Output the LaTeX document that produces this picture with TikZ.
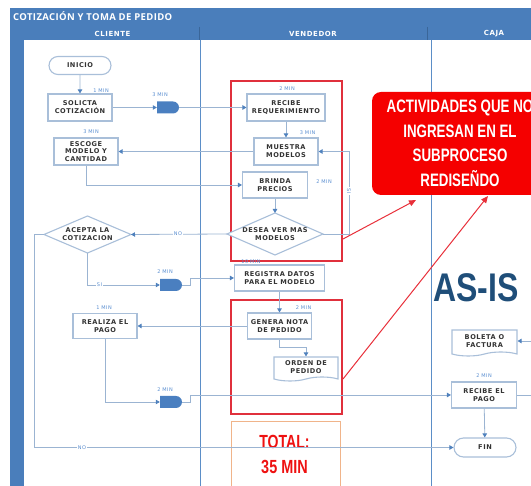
\documentclass[tikz,border=0pt]{standalone}
\usepackage{fontspec}
\setmainfont{DejaVu Sans}
\newfontfamily\boxf[LetterSpace=8]{DejaVu Sans}
\newfontfamily\lanef[LetterSpace=8]{DejaVu Sans}
\newfontfamily\arialf{Liberation Sans}
\newfontfamily\hdrf[LetterSpace=4]{Open Sans}
\usetikzlibrary{shapes.misc,shapes.symbols,arrows.meta,calc}
\definecolor{hdrblue}{HTML}{4A7EBB}
\definecolor{hdrdark}{HTML}{3A6699}
\definecolor{lanel}{HTML}{5B8EC7}
\definecolor{connc}{HTML}{9BB4D2}
\definecolor{arrowc}{HTML}{4F81BD}
\definecolor{boxb}{HTML}{A9BFD9}
\definecolor{txt}{HTML}{333333}
\definecolor{minc}{HTML}{5A8ED0}
\definecolor{gatec}{HTML}{4A7FC0}
\definecolor{redf}{HTML}{E0303C}
\definecolor{redl}{HTML}{E8303A}
\definecolor{calloutc}{HTML}{F50000}
\definecolor{asisc}{HTML}{1F4E79}
\definecolor{totb}{HTML}{F0B48A}
\definecolor{totc}{HTML}{EE1111}
\begin{document}
\begin{tikzpicture}[x=1pt,y=-1pt,
  proc/.style={rectangle, draw=boxb, line width=1.1pt, fill=white, minimum width=64, minimum height=27, inner sep=1pt, align=center, text=txt, font=\boxf\bfseries\fontsize{6.6}{7.8}\selectfont},
  term/.style={proc, rounded rectangle, minimum height=18},
  gate/.style={rounded rectangle, rounded rectangle left arc=none, fill=gatec, minimum width=22, minimum height=12, inner sep=0},
  docu/.style={proc, tape, tape bend top=none, tape bend height=4pt},
  dtext/.style={align=center, text=txt, font=\boxf\bfseries\fontsize{6.6}{7.8}\selectfont, inner sep=0},
  dshape/.style={draw=boxb, line width=1.1pt, fill=white},
  conn/.style={draw=connc, line width=0.8pt},
  arr/.style={conn, -{Triangle[length=4pt,width=4.5pt,fill=arrowc,color=arrowc]}},
  minl/.style={text=minc, font=\boxf\fontsize{5}{6}\selectfont, inner sep=0},
  ynl/.style={minl, fill=white, inner sep=1pt},
  redframe/.style={draw=redf, line width=1.2pt},
  redarr/.style={draw=redl, line width=1pt, -{Triangle[length=7pt,width=6pt]}},
  lanehdr/.style={text=white, font=\lanef\bfseries\fontsize{7}{8}\selectfont, inner sep=0},
]
\useasboundingbox (0,0) rectangle (531,486);
\clip (0,0) rectangle (531,486);
% header and lanes
\fill[hdrblue] (10,8) rectangle (531,40);
\fill[hdrblue] (10,8) rectangle (24,486);
\draw[hdrdark, line width=0.6pt] (199,27) -- (199,40);
\draw[hdrdark, line width=0.6pt] (427,27) -- (427,40);
\draw[lanel, line width=0.9pt] (200,40) -- (200,486);
\draw[lanel, line width=0.9pt] (431,40) -- (431,486);
\node[anchor=west, text=white, font=\hdrf\bfseries\fontsize{9.5}{10}\selectfont, inner sep=0] (title) at (13,16.5) {COTIZACIÓN Y TOMA DE PEDIDO};
\node[lanehdr] (hcli) at (112.5,33.5) {CLIENTE};
\node[lanehdr] (hven) at (313,33.5) {VENDEDOR};
\node[lanehdr] (hcaj) at (494,33.5) {CAJA};

% red frames
\node[redframe, minimum width=111, minimum height=180, inner sep=0] (rf1) at (286.5,171) {};
\node[redframe, minimum width=111, minimum height=114, inner sep=0] (rf2) at (286.5,357) {};
\node[draw=totb, line width=1pt, minimum width=109, minimum height=80, inner sep=0] (tot) at (285.5,462) {};
\node[text=totc, font=\arialf\bfseries\fontsize{19}{25}\selectfont, align=center, inner sep=0] (totxt) at (284.5,454.5) {\scalebox{0.74}[1]{TOTAL:}\\\scalebox{0.76}[1]{35 MIN}};

% diamonds
\coordinate (d1n) at (275,213); \coordinate (d1s) at (275,255);
\coordinate (d1w) at (227,234); \coordinate (d1e) at (323,234);
\filldraw[dshape] (d1n) -- (d1e) -- (d1s) -- (d1w) -- cycle;
\node[dtext] (d1) at (275,234) {DESEA VER MAS\\MODELOS};
\coordinate (d2n) at (87.5,216); \coordinate (d2s) at (87.5,253);
\coordinate (d2w) at (44,234.5); \coordinate (d2e) at (131,234.5);
\filldraw[dshape] (d2n) -- (d2e) -- (d2s) -- (d2w) -- cycle;
\node[dtext] (d2) at (87.5,234.5) {ACEPTA LA\\COTIZACION};

% nodes
\node[term] (inicio) at (80,65.5) {INICIO};
\node[proc] (solicita) at (80,107.5) {SOLICTA\\COTIZACIÓN};
\node[gate] (g1) at (168,107.5) {};
\node[proc, minimum width=78] (recibe) at (286,107.5) {RECIBE\\REQUERIMIENTO};
\node[proc] (muestra) at (286,151.5) {MUESTRA\\MODELOS};
\node[proc] (escoge) at (86,151.5) {ESCOGE\\MODELO Y\\CANTIDAD};
\node[proc, minimum width=65, minimum height=26] (brinda) at (275,185) {BRINDA\\PRECIOS};
\node[gate] (g2) at (171,285) {};
\node[proc, minimum width=90, minimum height=26] (registra) at (279.5,278) {REGISTRA DATOS\\PARA EL MODELO};
\node[proc, minimum height=26] (genera) at (279.5,326) {GENERA NOTA\\DE PEDIDO};
\node[proc, minimum height=25] (realiza) at (105,326) {REALIZA EL\\PAGO};
\node[docu, minimum height=24] (orden) at (306,367) {ORDEN DE\\PEDIDO};
\node[gate] (g3) at (171,402) {};
\node[docu, minimum width=65, minimum height=26] (boleta) at (484.5,341) {BOLETA O\\FACTURA};
\node[proc, minimum width=65, minimum height=26] (rpago) at (484,395) {RECIBE EL\\PAGO};
\node[term, minimum height=19] (fin) at (485,447.5) {FIN};

% time labels
\node[minl] (t1) at (101,91) {1 MIN};
\node[minl] (t2) at (160,94.5) {3 MIN};
\node[minl] (t3) at (287,89) {2 MIN};
\node[minl] (t4) at (307.5,133) {3 MIN};
\node[minl] (t5) at (91,132) {3 MIN};
\node[minl] (t6) at (324,182) {2 MIN};
\node[minl] (t7) at (165,272) {2 MIN};
\node[minl] (t8) at (251,261.5) {10 MIN};
\node[minl] (t9) at (303.5,308) {2 MIN};
\node[minl] (t10) at (104,308) {1 MIN};
\node[minl] (t11) at (165,390) {2 MIN};
\node[minl] (t12) at (484,376) {2 MIN};

% connectors
\coordinate (siloop) at (349,151.5);
\coordinate (bolin) at (535,341);
\coordinate (rpout) at (535,395);
\draw[arr] (inicio) -- (solicita);
\draw[arr] (solicita) -- (g1);
\draw[arr] (g1) -- (recibe);
\draw[arr] (recibe) -- (muestra);
\draw[arr] (muestra) -- (escoge);
\draw[arr] (escoge.south) |- (brinda.west);
\draw[arr] (brinda) -- (d1n);
\draw[arr] (d1e) -| (siloop) -- (muestra.east);
\draw[arr] (d1w) -- (d2e);
\draw[arr] (d2s) |- (g2.west);
\draw[arr] (g2.east) -- ++(8,0) |- (registra.west);
\draw[arr] (d2w) -- ++(-10,0) |- (fin.west);
\draw[arr] (registra) -- (genera);
\draw[arr] (genera) -- (realiza);
\draw[arr] (genera.south) -- ++(0,8) -| (orden.north);
\draw[arr] (realiza.south) |- (g3.west);
\draw[arr] (g3.east) -- ++(8,0) |- (rpago.west);
\draw[conn] (rpago.east) -- (rpout);
\draw[arr] (bolin) -- (boleta.east);
\draw[arr] (rpago) -- (fin);

% yes/no labels
\node[ynl] (no1) at (178,234) {NO};
\node[ynl] (no2) at (82,447.5) {NO};
\node[ynl] (si1) at (99.5,285) {SI};
\node[ynl, rotate=-90] (si2) at (349,191) {SI};

% callout
\node[fill=calloutc, rounded corners=9pt, minimum width=176, minimum height=103, inner sep=0, text=white, align=center, font=\arialf\bfseries\fontsize{18}{24.5}\selectfont] (callout) at (460,143.5) {\scalebox{0.74}[1]{ACTIVIDADES QUE NO}\\\scalebox{0.74}[1]{INGRESAN EN EL}\\\scalebox{0.74}[1]{SUBPROCESO}\\\scalebox{0.74}[1]{REDISEÑDO}};
\coordinate (ra1s) at (343,239);
\coordinate (ra1e) at (416,200);
\coordinate (ra2s) at (343,379);
\coordinate (ra2e) at (488,196);
\draw[redarr] (ra1s) -- (ra1e);
\draw[redarr] (ra2s) -- (ra2e);

% AS-IS
\node[text=asisc, font=\arialf\bfseries\fontsize{40}{40}\selectfont, inner sep=0] (asis) at (476,287.5) {\scalebox{0.8}[1]{AS-IS}};
\end{tikzpicture}
\end{document}
